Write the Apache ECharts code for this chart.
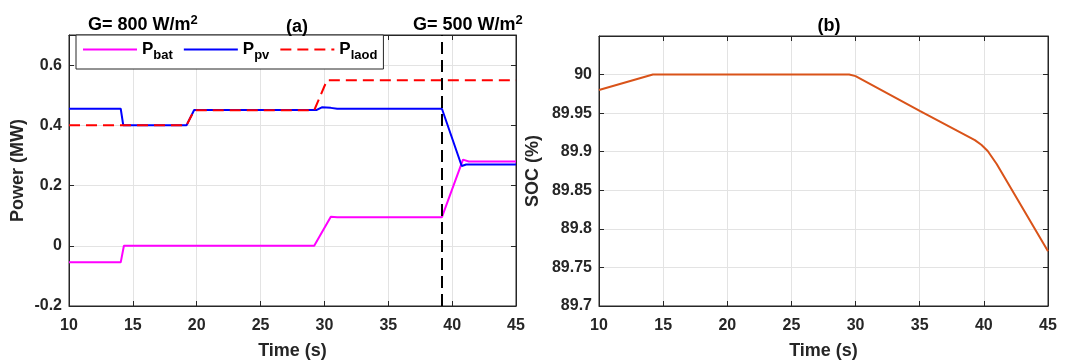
<!DOCTYPE html>
<html><head><meta charset="utf-8">
<script src="https://cdn.jsdelivr.net/npm/echarts@6/dist/echarts.min.js"></script>
<style>html,body{margin:0;padding:0;background:#fff}#c{width:1067px;height:360px}</style>
</head><body><div id="c"></div>
<script>
// ---- data ----
const pbatT = [10, 14.05, 14.3, 16, 16.1, 16.3, 29.2, 30.5, 31, 39.2, 40.85, 41.3, 45];
const pbatV = [-0.055, -0.055, 0, 0, -0.004, 0, 0, 0.096, 0.095, 0.095, 0.286, 0.28, 0.28];
const ppvT = [10, 14.05, 14.25, 19.2, 19.8, 29.4, 29.8, 30.5, 31, 39.2, 40.75, 41.1, 45];
const ppvV = [0.455, 0.455, 0.40, 0.40, 0.451, 0.451, 0.460, 0.458, 0.455, 0.455, 0.265, 0.27, 0.27];
const ploadT = [10, 19.2, 19.8, 29.2, 30.2, 45];
const ploadV = [0.40, 0.40, 0.45, 0.45, 0.55, 0.55];
const socT = [10, 14.2, 29.5, 30, 35, 39.3, 39.8, 40.3, 41, 45];
const socV = [89.98, 90.0, 90.0, 89.998, 89.953, 89.915, 89.909, 89.901, 89.884, 89.771];
const xTicks = [10, 15, 20, 25, 30, 35, 40, 45];
const powerTicks = [-0.2, 0, 0.2, 0.4, 0.6];
const socTicks = [89.7, 89.75, 89.8, 89.85, 89.9, 89.95, 90];
const eventTime = 39.2;

const zip = (a, b) => a.map((t, i) => [t, b[i]]);
const TXT = '#262626';
const FONT = 'Liberation Sans, Arial, sans-serif';
const fmt = v => String(parseFloat(v.toFixed(2)));

function xAx(gi, pos, show) {
  return {
    type: 'value', gridIndex: gi, position: pos, min: 10, max: 45, interval: 5,
    axisLine: {show: true, onZero: false, lineStyle: {color: TXT, width: 1}},
    axisTick: {show: true, inside: true, length: 5, lineStyle: {color: TXT}},
    axisLabel: {show: show, color: TXT, fontSize: 16, fontWeight: 'bold', fontFamily: FONT, margin: 12,
      formatter: v => xTicks.includes(v) ? fmt(v) : ''},
    splitLine: {show: show, lineStyle: {color: '#e3e3e3', width: 1}},
    name: show ? 'Time (s)' : '', nameLocation: 'middle', nameGap: 36,
    nameTextStyle: {color: TXT, fontSize: 18, fontWeight: 'bold', fontFamily: FONT}
  };
}
function yAx(gi, pos, show, min, max, interval, ticks, name, gap) {
  return {
    type: 'value', gridIndex: gi, position: pos, min: min, max: max, interval: interval,
    axisLine: {show: true, onZero: false, lineStyle: {color: TXT, width: 1}},
    axisTick: {show: true, inside: true, length: 5, lineStyle: {color: TXT}},
    axisLabel: {show: show, color: TXT, fontSize: 16, fontWeight: 'bold', fontFamily: FONT, margin: 7,
      formatter: v => ticks.some(t => Math.abs(t - v) < 1e-6) ? fmt(v) : ''},
    splitLine: {show: show, lineStyle: {color: '#e3e3e3', width: 1}},
    name: show ? name : '', nameLocation: 'middle', nameGap: gap, nameRotate: 90,
    nameTextStyle: {color: TXT, fontSize: 18, fontWeight: 'bold', fontFamily: FONT}
  };
}
const supRich = {
  a: {fontSize: 18, fontWeight: 'bold', fontFamily: FONT, color: '#000'},
  b: {fontSize: 13, fontWeight: 'bold', fontFamily: FONT, color: '#000', padding: [0, 0, 10, 0]}
};
const subRich = {
  p: {fontSize: 17, fontWeight: 'bold', fontFamily: FONT, color: '#000'},
  s: {fontSize: 13, fontWeight: 'bold', fontFamily: FONT, color: '#000', padding: [12, 0, 0, 0]}
};

const chart = echarts.init(document.getElementById('c'), null, {renderer: 'canvas'});
chart.setOption({
  animation: false,
  backgroundColor: '#fff',
  title: [
    {text: '{a|G= 800 W/m}{b|2}', left: 83, top: 9, textStyle: {rich: supRich}},
    {text: '(a)', left: 292, top: 13, textAlign: 'center', textStyle: {color: '#000', fontSize: 18, fontWeight: 'bold', fontFamily: FONT}},
    {text: '{a|G= 500 W/m}{b|2}', left: 408, top: 9, textStyle: {rich: supRich}},
    {text: '(b)', left: 824, top: 12, textAlign: 'center', textStyle: {color: '#000', fontSize: 18, fontWeight: 'bold', fontFamily: FONT}}
  ],
  legend: {
    left: 76, top: 35, orient: 'horizontal', itemWidth: 54, itemHeight: 12, itemGap: 10,
    padding: [6, 6, 7, 6],
    borderColor: TXT, borderWidth: 1, backgroundColor: '#fff',
    itemStyle: {opacity: 0},
    data: ['bat', 'pv', 'laod'],
    formatter: n => '{p|P}{s|' + n + '}',
    textStyle: {rich: subRich}
  },
  grid: [
    {left: 69, right: 551, top: 35, bottom: 54, outerBoundsMode: 'none', show: true, borderColor: TXT, borderWidth: 1, backgroundColor: 'transparent'},
    {left: 599, right: 19, top: 36, bottom: 54, outerBoundsMode: 'none', show: true, borderColor: TXT, borderWidth: 1, backgroundColor: 'transparent'}
  ],
  xAxis: [xAx(0, 'bottom', true), xAx(0, 'top', false), xAx(1, 'bottom', true), xAx(1, 'top', false)],
  yAxis: [
    yAx(0, 'left', true, -0.2, 0.7, 0.2, powerTicks, 'Power (MW)', 42),
    yAx(0, 'right', false, -0.2, 0.7, 0.2, powerTicks, '', 40),
    yAx(1, 'left', true, 89.7, 90.05, 0.05, socTicks, 'SOC (%)', 57),
    yAx(1, 'right', false, 89.7, 90.05, 0.05, socTicks, '', 40)
  ],
  series: [
    {name: 'bat', type: 'line', xAxisIndex: 0, yAxisIndex: 0, data: zip(pbatT, pbatV), symbol: 'none',
      lineStyle: {color: '#ff00ff', width: 2}, itemStyle: {color: '#ff00ff'}, z: 3},
    {name: 'pv', type: 'line', xAxisIndex: 0, yAxisIndex: 0, data: zip(ppvT, ppvV), symbol: 'none',
      lineStyle: {color: '#0000ff', width: 2}, itemStyle: {color: '#0000ff'}, z: 3},
    {name: 'laod', type: 'line', xAxisIndex: 0, yAxisIndex: 0, data: zip(ploadT, ploadV), symbol: 'none',
      lineStyle: {color: '#ff0000', width: 2, type: [11, 6]}, itemStyle: {color: '#ff0000'}, z: 4,
      markLine: {silent: true, symbol: 'none', label: {show: false},
        lineStyle: {color: '#000', width: 2, type: [12, 6]},
        data: [{xAxis: eventTime}]}},
    {name: 'soc', type: 'line', xAxisIndex: 2, yAxisIndex: 2, data: zip(socT, socV), symbol: 'none',
      lineStyle: {color: '#D95319', width: 2}, itemStyle: {color: '#D95319'}}
  ]
});
</script></body></html>
